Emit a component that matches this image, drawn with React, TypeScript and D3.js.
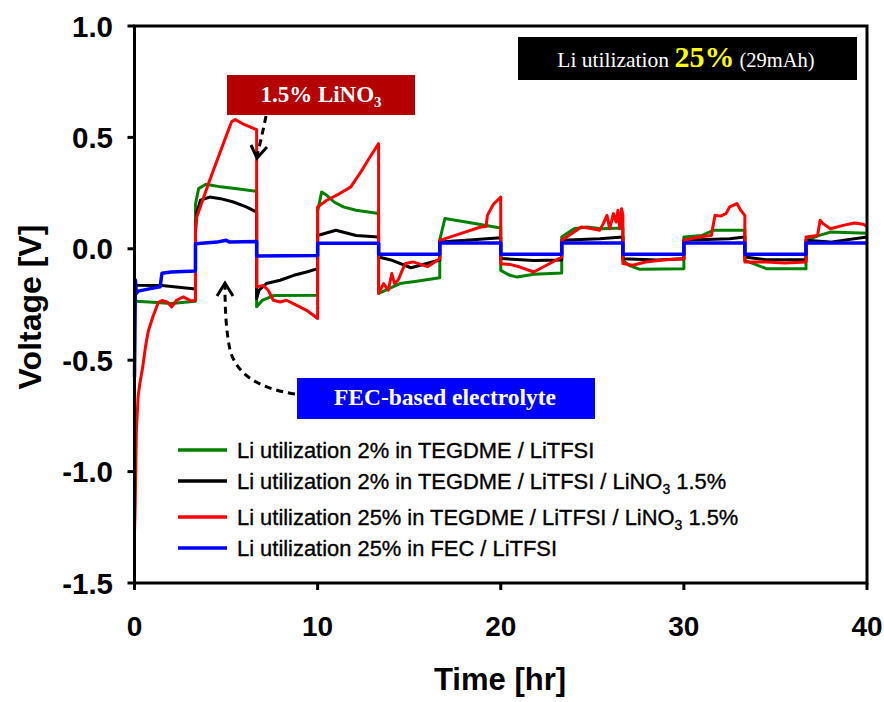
import React from "react";
import * as d3 from "d3";

// ---- data: [time (hr), voltage (V)] ----
const tegdme2: [number, number][] = [
  [0, -0.22], [0.1, -0.235], [1, -0.24], [2, -0.245], [3.33, -0.235],
  [3.33, 0.2], [3.5, 0.27], [3.9, 0.29], [4.7, 0.278], [5.6, 0.27], [6.67, 0.258],
  [6.67, -0.26], [7.0, -0.23], [7.6, -0.21], [10, -0.208],
  [10, 0.17], [10.22, 0.255], [10.5, 0.24], [10.9, 0.21], [11.4, 0.188], [12.1, 0.173], [13.33, 0.158],
  [13.33, -0.2], [13.6, -0.19], [14.5, -0.156], [15.5, -0.145], [16.67, -0.13],
  [16.67, 0.04], [16.95, 0.136], [18.1, 0.12], [19.2, 0.105], [20, 0.093],
  [20, -0.097], [20.5, -0.119], [20.9, -0.127], [21.8, -0.114], [23.33, -0.109],
  [23.33, 0.053], [24.0, 0.09], [24.7, 0.098], [25.5, 0.09], [26.67, 0.093],
  [26.67, -0.052], [27.0, -0.074], [27.6, -0.092], [30, -0.089],
  [30, 0.053], [31.0, 0.06], [31.6, 0.083], [33.33, 0.083],
  [33.33, -0.052], [34.5, -0.089], [36.67, -0.089],
  [36.67, 0.038], [37.4, 0.06], [38.0, 0.075], [40, 0.07],
];

const tegdme2LiNO3: [number, number][] = [
  [0, -0.15], [0.1, -0.164], [1.5, -0.165], [3.33, -0.18],
  [3.33, 0.07], [3.4, 0.16], [3.6, 0.218], [4.1, 0.232], [4.7, 0.225], [5.4, 0.21], [6.1, 0.188], [6.67, 0.165],
  [6.67, -0.224], [6.8, -0.186], [7.2, -0.156], [7.95, -0.141], [8.7, -0.119], [9.4, -0.104], [10, -0.089],
  [10, 0.06], [11.0, 0.083], [12.1, 0.06], [13.33, 0.053],
  [13.33, -0.037], [14.0, -0.05], [15.1, -0.085], [16.67, -0.05],
  [16.67, 0.03], [18.1, 0.038], [20, 0.05],
  [20, -0.044], [21.8, -0.052], [23.33, -0.05],
  [23.33, 0.038], [25.4, 0.045], [26.67, 0.053],
  [26.67, -0.045], [28.5, -0.05], [30, -0.045],
  [30, 0.038], [32.5, 0.045], [33.33, 0.053],
  [33.33, -0.037], [34.5, -0.049], [36.67, -0.049],
  [36.67, 0.038], [38.0, 0.03], [40, 0.053],
];

const tegdme25LiNO3: [number, number][] = [
  [0, -1.27], [0.04, -1.15], [0.1, -0.82], [0.2, -0.66], [0.3, -0.6], [0.45, -0.53], [0.6, -0.44],
  [0.75, -0.37], [1.0, -0.306], [1.3, -0.24], [1.5, -0.232], [1.8, -0.24], [2.03, -0.261], [2.3, -0.231],
  [2.67, -0.216], [3.1, -0.235], [3.33, -0.23],
  [3.33, 0.1], [3.4, 0.143], [4.1, 0.307], [4.85, 0.472], [5.3, 0.57], [5.5, 0.58], [5.94, 0.56], [6.5, 0.54], [6.67, 0.535],
  [6.67, -0.171], [7.03, -0.164], [7.3, -0.186], [7.58, -0.231], [7.95, -0.239], [8.3, -0.231], [8.86, -0.254], [9.4, -0.276], [10, -0.313],
  [10, 0.188], [10.5, 0.218], [11.2, 0.248], [11.8, 0.277], [12.3, 0.337], [12.86, 0.412], [13.33, 0.472],
  [13.33, -0.2], [13.6, -0.156], [13.86, -0.186], [14.05, -0.111], [14.2, -0.156], [14.4, -0.14], [14.6, -0.1],
  [14.8, -0.066], [15.2, -0.059], [16.0, -0.08], [16.67, -0.045],
  [16.67, 0.038], [17.8, 0.068], [18.9, 0.098], [19.2, 0.1], [19.27, 0.15], [19.6, 0.2], [20, 0.232],
  [20, -0.067], [20.5, -0.07], [21.05, -0.082], [21.8, -0.104], [22.5, -0.074], [23.33, -0.037],
  [23.33, 0.038], [24.0, 0.075], [24.4, 0.098], [25.0, 0.09], [25.4, 0.083], [25.6, 0.113], [25.8, 0.15],
  [25.95, 0.09], [26.15, 0.158], [26.3, 0.12], [26.4, 0.173], [26.5, 0.09], [26.6, 0.18], [26.67, 0.15],
  [26.67, -0.066], [27.2, -0.074], [27.9, -0.059], [29.0, -0.049], [30, -0.045],
  [30, 0.038], [30.8, 0.053], [31.5, 0.06], [31.7, 0.15], [32.0, 0.147], [32.3, 0.158], [32.5, 0.188],
  [32.9, 0.203], [33.1, 0.173], [33.33, 0.15],
  [33.33, -0.059], [34.5, -0.059], [35.5, -0.064], [36.67, -0.059],
  [36.67, 0.053], [37.3, 0.06], [37.44, 0.128], [37.6, 0.113], [38.0, 0.09], [38.7, 0.105], [39.3, 0.116], [39.8, 0.11], [40, 0.1],
];

const fec25: [number, number][] = [
  [0, -0.575], [0.05, -0.14], [0.1, -0.2], [0.2, -0.19], [0.8, -0.18], [1.4, -0.17], [1.5, -0.11], [2.0, -0.104], [3.33, -0.1],
  [3.33, 0.023], [4.5, 0.03], [5.0, 0.038], [5.2, 0.03], [6.67, 0.033],
  [6.67, -0.032], [10, -0.03],
  [10, 0.025], [13.33, 0.025],
  [13.33, -0.025], [16.67, -0.025],
  [16.67, 0.026], [20, 0.026],
  [20, -0.025], [23.33, -0.025],
  [23.33, 0.026], [26.67, 0.026],
  [26.67, -0.025], [30, -0.025],
  [30, 0.026], [33.33, 0.026],
  [33.33, -0.025], [36.67, -0.025],
  [36.67, 0.026], [40, 0.026],
];

const xTicks = [0, 10, 20, 30, 40];
const yTicks = [-1.5, -1.0, -0.5, 0.0, 0.5, 1.0];

const seriesOrder = [
  { key: "g", data: tegdme2, color: "#008000", w: 3 },
  { key: "k", data: tegdme2LiNO3, color: "#000000", w: 3 },
  { key: "r", data: tegdme25LiNO3, color: "#ff0000", w: 3 },
  { key: "b", data: fec25, color: "#0000ff", w: 3.5 },
];

const legendItems = [
  { color: "#008000", pre: "Li utilization 2% in TEGDME / LiTFSI", sub: false },
  { color: "#000000", pre: "Li utilization 2% in TEGDME / LiTFSI / LiNO", sub: true },
  { color: "#ff0000", pre: "Li utilization 25% in TEGDME / LiTFSI / LiNO", sub: true },
  { color: "#0000ff", pre: "Li utilization 25% in FEC / LiTFSI", sub: false },
];

const SANS = "'Liberation Sans', Arial, sans-serif";
const SERIF = "'Liberation Serif', 'Times New Roman', serif";

export default function App() {
  const x = d3.scaleLinear().domain([0, 40]).range([134.5, 867]);
  const y = d3.scaleLinear().domain([-1.5, 1.0]).range([583, 26]);
  const line = d3
    .line<[number, number]>()
    .x((d) => x(d[0]))
    .y((d) => y(d[1]));

  const legendY = [450, 481, 517, 548];

  return (
    <svg
      width={884}
      height={702}
      style={{ position: "absolute", left: 0, top: 0, background: "#fff" }}
    >
      <rect x={0} y={0} width={884} height={702} fill="#fff" />
      {/* data */}
      {seriesOrder.map((s) => (
        <path
          key={s.key}
          d={line(s.data) || ""}
          fill="none"
          stroke={s.color}
          strokeWidth={s.w}
          strokeLinejoin="round"
        />
      ))}

      {/* frame */}
      <rect
        x={x(0)}
        y={y(1)}
        width={x(40) - x(0)}
        height={y(-1.5) - y(1)}
        fill="none"
        stroke="#000"
        strokeWidth={3}
      />
      {/* y ticks */}
      {yTicks.map((t) => (
        <g key={"y" + t}>
          <line x1={x(0) - 7} x2={x(0)} y1={y(t)} y2={y(t)} stroke="#000" strokeWidth={3} />
          <text
            x={113}
            y={y(t)}
            textAnchor="end"
            dominantBaseline="central"
            fontFamily={SANS}
            fontWeight="bold"
            fontSize={29.5}
          >
            {t.toFixed(1)}
          </text>
        </g>
      ))}
      {/* x ticks */}
      {xTicks.map((t) => (
        <g key={"x" + t}>
          <line x1={x(t)} x2={x(t)} y1={y(-1.5)} y2={y(-1.5) + 7} stroke="#000" strokeWidth={3} />
          <text
            x={x(t)}
            y={636}
            textAnchor="middle"
            fontFamily={SANS}
            fontWeight="bold"
            fontSize={28}
          >
            {t}
          </text>
        </g>
      ))}
      <text
        x={500}
        y={690}
        textAnchor="middle"
        fontFamily={SANS}
        fontWeight="bold"
        fontSize={31}
      >
        Time [hr]
      </text>
      <text
        transform="translate(41,307) rotate(-90)"
        textAnchor="middle"
        fontFamily={SANS}
        fontWeight="bold"
        fontSize={32}
      >
        Voltage [V]
      </text>

      {/* legend */}
      {legendItems.map((it, i) => (
        <g key={"lg" + i}>
          <line x1={178} x2={227} y1={legendY[i]} y2={legendY[i]} stroke={it.color} strokeWidth={3.5} />
          <text
            x={237}
            y={legendY[i] + 8}
            fontFamily={SANS}
            fontSize={21.9}
            fill="#000"
            stroke="#000"
            strokeWidth={0.35}
          >
            {it.pre}
            {it.sub && (
              <>
                <tspan dy={5} fontSize={14}>3</tspan>
                <tspan dy={-5}> 1.5%</tspan>
              </>
            )}
          </text>
        </g>
      ))}

      {/* Li utilization box */}
      <rect x={518} y={37} width={339} height={43} fill="#000" />
      <text x={686} y={67} textAnchor="middle" fontFamily={SERIF} fill="#fff">
        <tspan fontSize={21.5}>Li utilization </tspan>
        <tspan fontSize={30} fontWeight="bold" fill="#ffff00">25%</tspan>
        <tspan fontSize={20.5}> (29mAh)</tspan>
      </text>

      {/* 1.5% LiNO3 box */}
      <rect x={227} y={75} width={188} height={40} fill="#b40000" />
      <text x={321} y={102} textAnchor="middle" fontFamily={SERIF} fontWeight="bold" fontSize={23} fill="#fff">
        1.5% LiNO<tspan dy={5} fontSize={15}>3</tspan>
      </text>
      <path d="M266,116 Q262,136 257,156" fill="none" stroke="#000" strokeWidth={3} strokeDasharray="7,5" />
      <path d="M251,145 L257,158 L267,147" fill="none" stroke="#000" strokeWidth={3} strokeLinejoin="miter" />

      {/* FEC-based box */}
      <rect x={297} y={378} width={298} height={41} fill="#0000ff" />
      <text x={445} y={405} textAnchor="middle" fontFamily={SERIF} fontWeight="bold" fontSize={23.5} fill="#fff">
        FEC-based electrolyte
      </text>
      <path
        d="M295,394 C255,388 236,372 230,350 C226,330 225,310 225,285"
        fill="none"
        stroke="#000"
        strokeWidth={3}
        strokeDasharray="7,5"
      />
      <path d="M217,296 L225,283 L233,296" fill="none" stroke="#000" strokeWidth={3} />
    </svg>
  );
}
